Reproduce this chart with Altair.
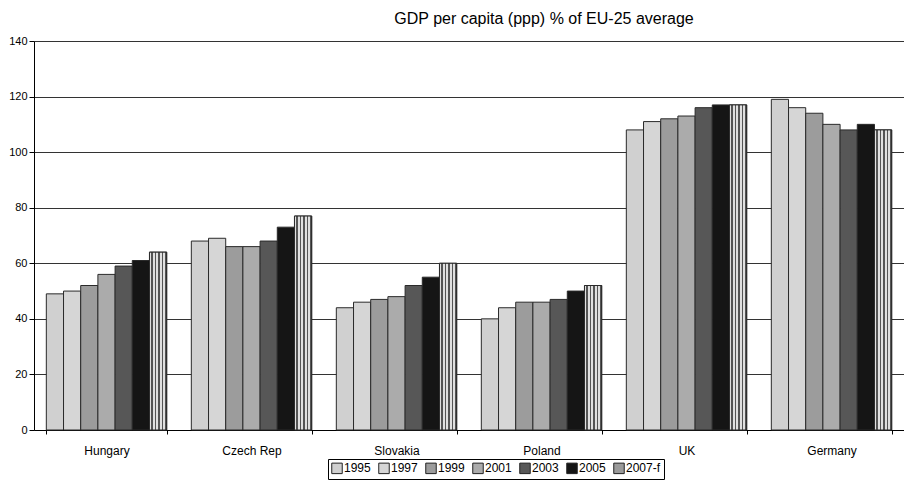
import altair as alt
import pandas as pd

countries = ["Hungary", "Czech Rep", "Slovakia", "Poland", "UK", "Germany"]
years = ["1995", "1997", "1999", "2001", "2003", "2005", "2007-f"]
v1995 = [49, 68, 44, 40, 108, 119]
v1997 = [50, 69, 46, 44, 111, 116]
v1999 = [52, 66, 47, 46, 112, 114]
v2001 = [56, 66, 48, 46, 113, 110]
v2003 = [59, 68, 52, 47, 116, 108]
v2005 = [61, 73, 55, 50, 117, 110]
v2007 = [64, 77, 60, 52, 117, 108]
series = [v1995, v1997, v1999, v2001, v2003, v2005, v2007]
colors = ["#d0d0d0", "#d6d6d6", "#9c9c9c", "#ababab", "#575757", "#151515", "#9a9a9a"]

rows = []
for y, vals in zip(years, series):
    for c, v in zip(countries, vals):
        rows.append({"country": c, "year": y, "value": v})
df = pd.DataFrame(rows)

FONT = "Liberation Sans"

# vertical stripes gradient for 2007-f
stops = []
n = 5
for i in range(n):
    a = i / n
    m = (i + 0.5) / n
    b = (i + 1) / n
    stops += [
        alt.GradientStop(offset=a, color="#e0e0e0"),
        alt.GradientStop(offset=m - 0.001, color="#e0e0e0"),
        alt.GradientStop(offset=m, color="#555555"),
        alt.GradientStop(offset=b - 0.001, color="#555555"),
    ]
stripe = alt.Gradient(gradient="linear", stops=stops, x1=0, x2=1, y1=0, y2=0)

base = alt.Chart(df).encode(
    x=alt.X(
        "country:N",
        sort=countries,
        scale=alt.Scale(paddingInner=0.17, paddingOuter=0.085),
        axis=alt.Axis(
            title=None, labelAngle=0, labelFontSize=12, labelFont=FONT, labelColor="#000",
            domainColor="#000", tickColor="#000", tickSize=4, tickBand="extent",
            labelPadding=11,
        ),
    ),
    xOffset=alt.XOffset("year:N", sort=years, scale=alt.Scale(domain=years, paddingInner=0)),
    y=alt.Y(
        "value:Q",
        scale=alt.Scale(domain=[0, 140], nice=False),
        axis=alt.Axis(
            title=None, values=list(range(0, 141, 20)), labelFontSize=11, labelFont=FONT,
            labelColor="#000", grid=True, gridColor="#333", gridWidth=1,
            domainColor="#000", tickColor="#000", tickSize=5, labelPadding=2,
        ),
    ),
)

bars = base.mark_bar(stroke="#2a2a2a", strokeWidth=1).encode(
    color=alt.Color(
        "year:N",
        sort=years,
        scale=alt.Scale(domain=years, range=colors),
        legend=alt.Legend(
            title=None, orient="none", legendX=294, legendY=418, direction="horizontal",
            columns=7, symbolType="square", symbolSize=110, symbolStrokeColor="#222",
            symbolStrokeWidth=1, labelFontSize=12, labelFont=FONT, labelColor="#000",
            strokeColor="#000", padding=3, columnPadding=5, labelOffset=1,
        ),
    )
)

stripes = base.transform_filter(alt.datum.year == "2007-f").mark_bar(
    fill=stripe, stroke="#2a2a2a", strokeWidth=1
)

chart = (
    alt.layer(bars, stripes)
    .properties(
        width=870,
        height=389,
        title=alt.Title(
            "GDP per capita (ppp) % of EU-25 average", fontSize=16, fontWeight="normal",
            font=FONT, color="#000", anchor="middle", dx=75, offset=8,
        ),
        autosize=alt.AutoSizeParams(type="none"),
        padding={"left": 34, "top": 41, "right": 0, "bottom": 60},
    )
    .configure_view(stroke=None)
    .configure(background="white")
)

chart.save("out.html", embed_options={"renderer": "svg", "actions": False})
